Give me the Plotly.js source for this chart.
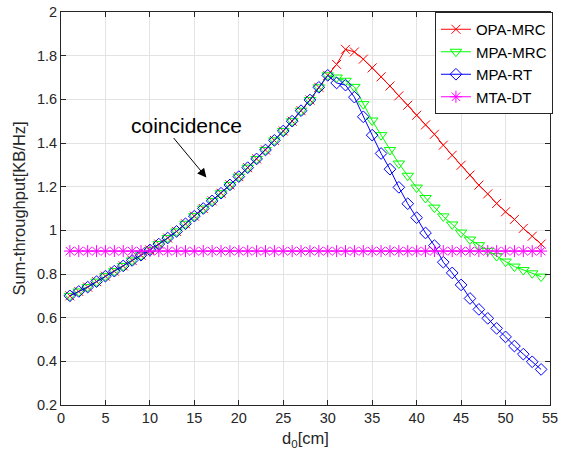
<!DOCTYPE html>
<html>
<head>
<meta charset="utf-8">
<script src="https://cdn.plot.ly/plotly-3.0.1.min.js"></script>
<style>html,body{margin:0;padding:0;background:#fff;}#chart{width:565px;height:464px;}</style>
</head>
<body>
<div id="chart"></div>
<script>
// distance d0 [cm]
const d0 = [];
for (let i = 1; i <= 54; i++) d0.push(i);

// shared part (d0 = 1..30)
const common = [0.70,0.72,0.74,0.765,0.79,0.813,0.837,0.862,0.886,0.91,0.937,0.965,0.995,1.03,1.065,1.10,1.135,1.17,1.208,1.246,1.287,1.327,1.368,1.412,1.455,1.50,1.548,1.597,1.655,1.71];

const opaTail = [1.76,1.829,1.817,1.784,1.744,1.703,1.661,1.616,1.573,1.527,1.483,1.44,1.39,1.344,1.298,1.253,1.207,1.167,1.123,1.085,1.05,1.009,0.973,0.937];
const mpaMrcTail = [1.70,1.685,1.657,1.578,1.503,1.436,1.368,1.306,1.25,1.196,1.148,1.104,1.064,1.027,0.99,0.958,0.932,0.906,0.882,0.857,0.834,0.818,0.803,0.788];
const mpaRtTail = [1.675,1.665,1.61,1.52,1.436,1.352,1.28,1.197,1.122,1.058,0.988,0.93,0.854,0.805,0.75,0.688,0.638,0.597,0.551,0.512,0.47,0.433,0.398,0.363];
const mtaDt = d0.map(() => 0.905);

const opaMrc = common.concat(opaTail);
const mpaMrc = common.concat(mpaMrcTail);
const mpaRt = common.concat(mpaRtTail);

const seriesNames = ['OPA-MRC','MPA-MRC','MPA-RT','MTA-DT'];
const xTicks = [0,5,10,15,20,25,30,35,40,45,50,55];
const yTicks = [0.2,0.4,0.6,0.8,1,1.2,1.4,1.6,1.8,2];

const font = 'Liberation Sans, Arial, Helvetica, sans-serif';

function tr(name, y, color, symbol, size) {
  return {
    x: d0, y: y, name: name, type: 'scatter', mode: 'lines+markers',
    line: {color: color, width: 1},
    marker: {symbol: symbol, size: size, color: color, line: {color: color, width: 1}},
    cliponaxis: false
  };
}

const data = [
  tr(seriesNames[0], opaMrc, '#ff0000', 'x-thin-open', 9),
  tr(seriesNames[1], mpaMrc, '#00ff00', 'triangle-down-open', 10),
  tr(seriesNames[2], mpaRt, '#0000ff', 'diamond-open', 9),
  tr(seriesNames[3], mtaDt, '#ff00ff', 'asterisk-open', 10)
];

const axisCommon = {
  showline: true, linecolor: '#262626', linewidth: 1, mirror: 'ticks',
  ticks: 'inside', ticklen: 5, tickcolor: '#262626', tickwidth: 1,
  showgrid: true, gridcolor: '#e3e3e3', gridwidth: 1, zeroline: false,
  tickfont: {family: font, size: 14.5, color: '#262626'}
};

const layout = {
  width: 565, height: 464,
  margin: {l: 61, r: 12, t: 12, b: 59},
  paper_bgcolor: '#ffffff', plot_bgcolor: '#ffffff',
  showlegend: true,
  legend: {
    x: 1.006, y: 1, xanchor: 'right', yanchor: 'top',
    bgcolor: '#ffffff', bordercolor: '#262626', borderwidth: 1,
    font: {family: font, size: 15, color: '#000'},
    tracegroupgap: 0, itemwidth: 30
  },
  xaxis: Object.assign({}, axisCommon, {
    range: [0, 55], tickmode: 'array', tickvals: xTicks,
    title: {text: 'd<sub>0</sub>[cm]', font: {family: font, size: 16.5, color: '#262626'}, standoff: 7}
  }),
  yaxis: Object.assign({}, axisCommon, {
    range: [0.2, 2], tickmode: 'array', tickvals: yTicks,
    title: {text: 'Sum-throughput[KB/Hz]', font: {family: font, size: 16.5, color: '#262626'}, standoff: 7}
  }),
  annotations: [
    {x: 14.1, y: 1.48, xref: 'x', yref: 'y', text: 'coincidence', showarrow: false,
     font: {family: font, size: 21, color: '#000'}},
    {x: 16.35, y: 1.242, xref: 'x', yref: 'y', text: '', showarrow: true,
     ax: -34, ay: -41, arrowhead: 2, arrowsize: 1.8, arrowwidth: 1, arrowcolor: '#000'}
  ]
};

Plotly.newPlot('chart', data, layout, {displayModeBar: false, staticPlot: true});
</script>
</body>
</html>
